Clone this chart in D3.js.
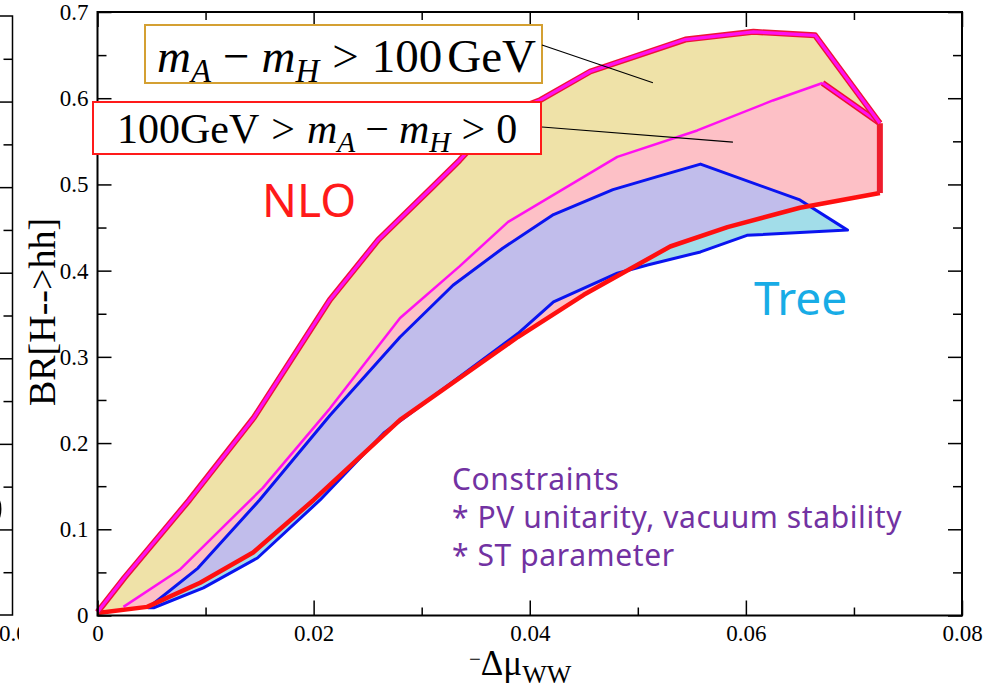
<!doctype html>
<html>
<head>
<meta charset="utf-8">
<script src="https://cdn.jsdelivr.net/npm/d3@7"></script>
<style>
body { margin: 0; background: #fff; }
text { font-family: "Liberation Serif", serif; fill: #000; }
.tick line { stroke: #000; stroke-width: 1.5; }
</style>
</head>
<body>
<script>
// NLO region, upper boundary (thick magenta line)
var nloTopX = [0, 0.0025, 0.0085, 0.0145, 0.0215, 0.026, 0.031, 0.0335, 0.0373, 0.041, 0.0456, 0.0544, 0.0607, 0.0664, 0.0724];
var nloTopY = [0.004, 0.044, 0.134, 0.230, 0.366, 0.436, 0.497, 0.528, 0.580, 0.598, 0.631, 0.668, 0.677, 0.673, 0.571];
// boundary between mA-mH>100GeV and 100GeV>mA-mH>0 (thin magenta)
var splitX = [0.0024, 0.0076, 0.0153, 0.0215, 0.028, 0.0335, 0.0380, 0.0481, 0.0555, 0.0625, 0.0671, 0.0724];
var splitY = [0.010, 0.053, 0.148, 0.240, 0.345, 0.405, 0.4565, 0.532, 0.5626, 0.5974, 0.6177, 0.571];
// NLO region, lower boundary (red)
var nloLowX = [0, 0.0046, 0.0095, 0.0144, 0.0200, 0.0280, 0.0389, 0.0450, 0.0530, 0.0583, 0.0650, 0.0724];
var nloLowY = [0.003, 0.010, 0.038, 0.073, 0.134, 0.227, 0.323, 0.372, 0.428, 0.4505, 0.473, 0.490];
// Tree region (blue)
var treeTopX = [0.0047, 0.0093, 0.015, 0.0215, 0.028, 0.0329, 0.0375, 0.0422, 0.0477, 0.0518, 0.0558, 0.065, 0.0694];
var treeTopY = [0.009, 0.055, 0.134, 0.232, 0.323, 0.383, 0.426, 0.465, 0.494, 0.509, 0.5236, 0.482, 0.447];
var treeLowX = [0.0047, 0.0052, 0.0098, 0.0148, 0.0206, 0.0265, 0.0389, 0.0422, 0.0481, 0.0509, 0.0558, 0.0601, 0.0694];
var treeLowY = [0.009, 0.009, 0.032, 0.0667, 0.134, 0.2117, 0.327, 0.3637, 0.397, 0.4066, 0.4217, 0.441, 0.447];

var xMajor = [0, 0.02, 0.04, 0.06, 0.08];
var xMinor = [0.01, 0.03, 0.05, 0.07];
var yMajor = [0, 0.1, 0.2, 0.3, 0.4, 0.5, 0.6, 0.7];
var yMinor = [0.05, 0.15, 0.25, 0.35, 0.45, 0.55, 0.65];

// leader line targets (data units)
var leaderGold = [0.0514, 0.618];
var leaderRed = [0.0588, 0.549];

var zip = (xs, ys) => xs.map((v, i) => [v, ys[i]]);
var nloTop = zip(nloTopX, nloTopY), split = zip(splitX, splitY), nloLow = zip(nloLowX, nloLowY);
var treeTop = zip(treeTopX, treeTopY), treeLow = zip(treeLowX, treeLowY);

var W = 984, H = 690;
var x = d3.scaleLinear().domain([0, 0.08]).range([97.5, 962]);
var y = d3.scaleLinear().domain([0, 0.7]).range([615.5, 12]);

var svg = d3.select("body").append("svg").attr("width", W).attr("height", H);
var line = d3.line().x(d => x(d[0])).y(d => y(d[1]));

// piece of the neighbouring plot at the left edge
var yL = d3.scaleLinear().domain([0, 0.7]).range([615, 16]);
svg.append("clipPath").attr("id", "cut").append("rect").attr("width", 19).attr("height", H);
var left = svg.append("g").attr("clip-path", "url(#cut)");
left.append("path").attr("d", "M-5,16H12.5V615H-5").attr("fill", "none").attr("stroke", "#000").attr("stroke-width", 1.5);
left.append("g").attr("transform", "translate(12.5,0)")
  .call(d3.axisLeft(yL).tickValues(yMinor).tickSize(9).tickFormat(""))
  .call(g => g.select(".domain").remove());
left.append("g").attr("transform", "translate(12.5,0)")
  .call(d3.axisLeft(yL).tickValues(yMajor.slice(1, 7)).tickSize(13).tickFormat(""))
  .call(g => g.select(".domain").remove());
left.append("text").attr("x", -1).attr("y", 641).style("font-size", "23px").text("0.08");
left.append("text").attr("x", -36).attr("y", 528).style("font-family", "Noto Sans").style("font-size", "52px").text("O");

// fills
var nloPoly = nloTop.concat(nloLow.slice().reverse());
var treePoly = treeTop.concat(treeLow.slice().reverse());
svg.append("clipPath").attr("id", "nlo").append("path").attr("d", line(nloPoly) + "Z");

svg.append("path").attr("d", line(nloPoly) + "Z").attr("fill", "#fdc0c6");
svg.append("path").attr("d", line(nloTop.concat(split.slice().reverse())) + "Z").attr("fill", "#efe2a8");
svg.append("path").attr("d", line(treePoly) + "Z").attr("fill", "#a2dde9");
svg.append("path").attr("d", line(treePoly) + "Z").attr("fill", "#c1bdeb").attr("clip-path", "url(#nlo)");

// lines
svg.append("path").attr("d", line(treePoly) + "Z").attr("fill", "none")
  .attr("stroke", "#0a14f0").attr("stroke-width", 3).attr("stroke-linejoin", "round");
svg.append("path").attr("d", line(split.slice(0, -1))).attr("fill", "none")
  .attr("stroke", "#ff10f0").attr("stroke-width", 2.5).attr("stroke-linejoin", "round");
svg.append("path").attr("d", line(split.slice(-2))).attr("fill", "none")
  .attr("stroke", "#ee1030").attr("stroke-width", 6);
svg.append("path").attr("d", line(split.slice(-2))).attr("fill", "none")
  .attr("stroke", "#ff10f0").attr("stroke-width", 3);
svg.append("path").attr("d", line(nloLow)).attr("fill", "none")
  .attr("stroke", "#ff0f0f").attr("stroke-width", 4.5).attr("stroke-linejoin", "round");
svg.append("path").attr("d", line([nloTop[nloTop.length - 1], nloLow[nloLow.length - 1]])).attr("fill", "none")
  .attr("stroke", "#ee1c2c").attr("stroke-width", 6);
svg.append("path").attr("d", line(nloTop)).attr("fill", "none")
  .attr("stroke", "#ee1436").attr("stroke-width", 6).attr("stroke-linejoin", "round");
svg.append("path").attr("d", line(nloTop)).attr("fill", "none")
  .attr("stroke", "#ff10f0").attr("stroke-width", 3.2).attr("stroke-linejoin", "round");

// axes
var fmtX = d => d === 0 ? "0" : d3.format(".2f")(d);
var fmtY = d => d === 0 ? "0" : d3.format(".1f")(d);
function axis(gen, tr) {
  svg.append("g").attr("transform", tr)
    .call(gen)
    .call(g => g.select(".domain").remove())
    .call(g => g.selectAll("text").style("font-size", "23px").style("font-family", "Liberation Serif").attr("fill", "#111"));
}
axis(d3.axisBottom(x).tickValues(xMajor).tickSize(-15).tickPadding(9).tickFormat(fmtX), "translate(0,615.5)");
axis(d3.axisBottom(x).tickValues(xMinor).tickSize(-8).tickFormat(""), "translate(0,615.5)");
axis(d3.axisTop(x).tickValues(xMajor).tickSize(-15).tickFormat(""), "translate(0,12)");
axis(d3.axisTop(x).tickValues(xMinor).tickSize(-8).tickFormat(""), "translate(0,12)");
axis(d3.axisLeft(y).tickValues(yMajor).tickSize(-14).tickPadding(9).tickFormat(fmtY), "translate(97.5,0)");
axis(d3.axisLeft(y).tickValues(yMinor).tickSize(-9).tickFormat(""), "translate(97.5,0)");
axis(d3.axisRight(y).tickValues(yMajor).tickSize(-14).tickFormat(""), "translate(962,0)");
axis(d3.axisRight(y).tickValues(yMinor).tickSize(-9).tickFormat(""), "translate(962,0)");

svg.append("rect").attr("x", x(0)).attr("y", y(0.7)).attr("width", x(0.08) - x(0)).attr("height", y(0) - y(0.7))
  .attr("fill", "none").attr("stroke", "#000").attr("stroke-width", 2);

// axis titles
svg.append("text").attr("transform", "translate(55,312) rotate(-90)").attr("text-anchor", "middle")
  .style("font-size", "38px").text("BR[H-->hh]");
var xt = svg.append("text").attr("x", 469).attr("y", 675).style("font-size", "35px");
xt.append("tspan").style("font-size", "21px").attr("dy", -9).text("−");
xt.append("tspan").attr("dy", 9).text("Δμ");
xt.append("tspan").style("font-size", "26px").attr("dy", 8).text("WW");

// legend boxes
function mathText(x0, y0, size, parts) {
  var t = svg.append("text").attr("x", x0).attr("y", y0).style("font-size", size + "px");
  var down = false;
  parts.forEach(p => {
    var s = t.append("tspan").text(p.t);
    if (p.i) s.style("font-style", "italic");
    var dy = 0;
    if (p.sub && !down) { dy = size * 0.22; down = true; }
    if (!p.sub && down) { dy = -size * 0.22; down = false; }
    if (dy) s.attr("dy", dy);
    if (p.sub) s.style("font-size", (size * 0.7) + "px");
    if (p.dx) s.attr("dx", p.dx);
  });
}
svg.append("rect").attr("x", 145).attr("y", 25).attr("width", 397).attr("height", 58)
  .attr("fill", "#fff").attr("stroke", "#d4a032").attr("stroke-width", 2);
mathText(157, 72, 47, [
  {t: "m", i: true}, {t: "A", i: true, sub: true}, {t: "−", dx: 12}, {t: "m", i: true, dx: 12},
  {t: "H", i: true, sub: true}, {t: ">", dx: 13}, {t: "100", dx: 13}, {t: "GeV", dx: 5}
]);
svg.append("rect").attr("x", 93).attr("y", 102).attr("width", 448).attr("height", 52)
  .attr("fill", "#fff").attr("stroke", "#ff1a1a").attr("stroke-width", 2);
mathText(117, 143, 42, [
  {t: "100GeV"}, {t: ">", dx: 12}, {t: "m", i: true, dx: 12}, {t: "A", i: true, sub: true},
  {t: "−", dx: 10}, {t: "m", i: true, dx: 10}, {t: "H", i: true, sub: true}, {t: ">", dx: 11}, {t: "0", dx: 11}
]);
svg.append("line").attr("x1", 542).attr("y1", 45).attr("x2", x(leaderGold[0])).attr("y2", y(leaderGold[1]))
  .attr("stroke", "#000").attr("stroke-width", 1.2);
svg.append("line").attr("x1", 542).attr("y1", 127).attr("x2", x(leaderRed[0])).attr("y2", y(leaderRed[1]))
  .attr("stroke", "#000").attr("stroke-width", 1.2);

// annotations
var sans = "Noto Sans";
svg.append("text").attr("x", 262).attr("y", 217).style("font-family", sans).style("font-size", "46px")
  .style("fill", "#ff1a1a").text("NLO");
svg.append("text").attr("x", 754).attr("y", 315).style("font-family", sans).style("font-size", "46px")
  .style("fill", "#18ace6").text("Tree");
var notes = ["Constraints", "* PV unitarity, vacuum stability", "* ST parameter"];
svg.append("g").selectAll("text").data(notes).join("text")
  .attr("x", 452).attr("y", (d, i) => 490 + i * 38)
  .style("font-family", sans).style("font-size", "30px").style("letter-spacing", "0.6px").style("fill", "#7232a2")
  .text(d => d);
</script>
</body>
</html>
